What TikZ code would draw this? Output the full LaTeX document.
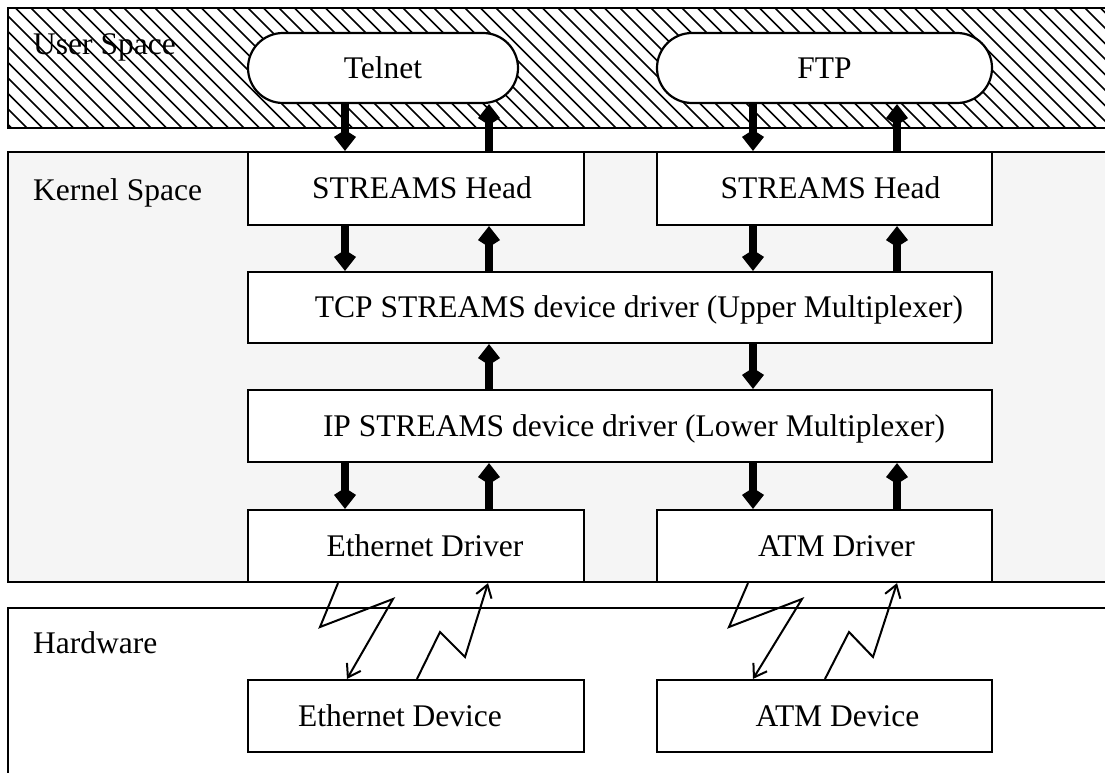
\documentclass[tikz,border=0pt]{standalone}
\usepackage{fontspec}
\setmainfont{Liberation Serif}
\usetikzlibrary{arrows.meta}
\definecolor{kernelgray}{HTML}{F5F5F5}
\tikzset{
  region/.style={draw=black, line width=2pt},
  blk/.style={draw=black, line width=2.2pt, fill=white, inner sep=0pt,
    text height=20.8pt, text depth=0pt,
    font=\fontsize{31.5}{36}\selectfont},
  app/.style={blk, rounded corners=35pt, minimum height=70pt},
  lbl/.style={anchor=base west, inner sep=0pt, font=\fontsize{31.5}{36}\selectfont},
  hatch/.style={line width=1.5pt},
  fat/.style={line width=7.5pt, -{Kite[length=21pt,width=22pt,inset=7pt]}},
  zz/.style={line width=2pt, line join=miter, -{Straight Barb[length=12pt,width=16pt,line width=2pt]}}
}
\begin{document}
\begin{tikzpicture}[x=1pt,y=-1pt]
\useasboundingbox (0,0) rectangle (1105,773);
\clip (0,0) rectangle (1105,773);

% ---- address-space regions ----
\begin{scope}
  \clip (8,8) rectangle (1120,128);
  \foreach \i in {-10,...,72} \draw[hatch] (\i*15.5,8) -- ++(120,120);
\end{scope}
\draw[region] (8,8) rectangle (1120,128);
\draw[region, fill=kernelgray] (8,152) rectangle (1120,582);
\draw[region] (8,608) rectangle (1120,790);

\node[lbl] (user) at (33,55) {User Space};
\node[lbl] (kern) at (33,200) {Kernel Space};
\node[lbl] (hw) at (33,653) {Hardware};

% ---- applications ----
\node[app, minimum width=270pt] (telnet) at (383,68) {Telnet};
\node[app, minimum width=335pt] (ftp) at (824.5,68) {FTP};

% ---- kernel modules ----
\node[blk, minimum width=336pt, minimum height=73pt] (shl) at (416,188.5) {\hspace*{12pt}STREAMS Head};
\node[blk, minimum width=335pt, minimum height=73pt] (shr) at (824.5,188.5) {\hspace*{12pt}STREAMS Head};
\node[blk, minimum width=744pt, minimum height=71pt] (tcp) at (620,307.5)
  {\hspace*{38pt}TCP STREAMS device driver (Upper Multiplexer)};
\node[blk, minimum width=744pt, minimum height=72pt] (ip) at (620,426)
  {\hspace*{28pt}IP STREAMS device driver (Lower Multiplexer)};
\node[blk, minimum width=336pt, minimum height=72pt] (ethdrv) at (416,546) {\hspace*{18pt}Ethernet Driver};
\node[blk, minimum width=335pt, minimum height=72pt] (atmdrv) at (824.5,546) {\hspace*{24pt}ATM Driver};

% ---- devices ----
\node[blk, minimum width=336pt, minimum height=72pt] (ethdev) at (416,716) {Ethernet Device\hspace*{32pt}};
\node[blk, minimum width=335pt, minimum height=72pt] (atmdev) at (824.5,716) {\hspace*{26pt}ATM Device};

% ---- arrow columns ----
\coordinate (c1) at (345,0);
\coordinate (c2) at (489,0);
\coordinate (c3) at (753,0);
\coordinate (c4) at (897,0);

% user <-> STREAMS heads
\draw[fat] (telnet.south -| c1) -- (shl.north -| c1);
\draw[fat] (shl.north -| c2) -- (telnet.south -| c2);
\draw[fat] (ftp.south -| c3) -- (shr.north -| c3);
\draw[fat] (shr.north -| c4) -- (ftp.south -| c4);

% STREAMS heads <-> TCP
\draw[fat] (shl.south -| c1) -- (tcp.north -| c1);
\draw[fat] (tcp.north -| c2) -- (shl.south -| c2);
\draw[fat] (shr.south -| c3) -- (tcp.north -| c3);
\draw[fat] (tcp.north -| c4) -- (shr.south -| c4);

% TCP <-> IP
\draw[fat] (ip.north -| c2) -- (tcp.south -| c2);
\draw[fat] (tcp.south -| c3) -- (ip.north -| c3);

% IP <-> drivers
\draw[fat] (ip.south -| c1) -- (ethdrv.north -| c1);
\draw[fat] (ethdrv.north -| c2) -- (ip.south -| c2);
\draw[fat] (ip.south -| c3) -- (atmdrv.north -| c3);
\draw[fat] (atmdrv.north -| c4) -- (ip.south -| c4);

% ---- drivers <-> devices (signal links) ----
\coordinate (e1) at (338,0);
\coordinate (e2) at (347,0);
\coordinate (e3) at (417,0);
\coordinate (e4) at (488,0);
\coordinate (a1) at (748,0);
\coordinate (a2) at (753,0);
\coordinate (a3) at (825,0);
\coordinate (a4) at (897,0);

\draw[zz] (ethdrv.south -| e1) -- (320,627) -- (393,599) -- (ethdev.north -| e2);
\draw[zz] (ethdev.north -| e3) -- (440,632) -- (465,657) -- (ethdrv.south -| e4);
\draw[zz] (atmdrv.south -| a1) -- (729,627) -- (802,599) -- (atmdev.north -| a2);
\draw[zz] (atmdev.north -| a3) -- (849,632) -- (873,657) -- (atmdrv.south -| a4);
\end{tikzpicture}
\end{document}
